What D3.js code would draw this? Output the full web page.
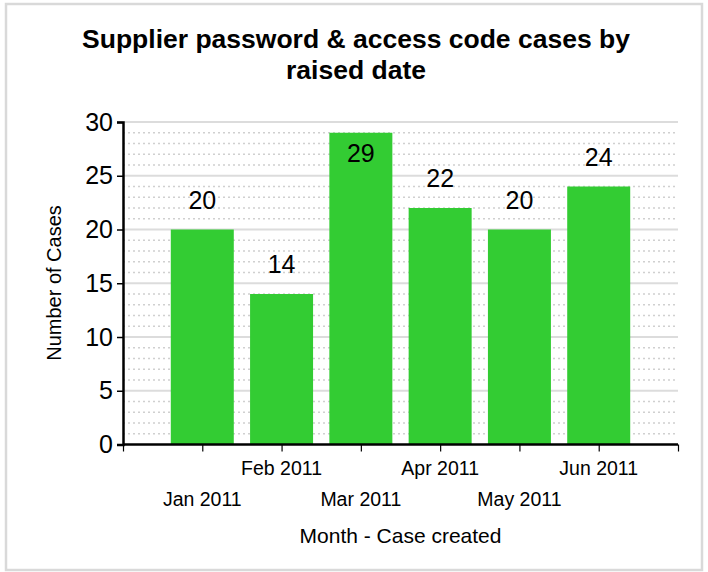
<!DOCTYPE html>
<html><head><meta charset="utf-8">
<script src="https://cdn.jsdelivr.net/npm/d3@7"></script>
<style>body{margin:0;background:#fff;font-family:"Liberation Sans",Arial,sans-serif;}</style>
</head><body>
<svg id="c" width="708" height="572"></svg>
<script>
const months = ["Jan 2011","Feb 2011","Mar 2011","Apr 2011","May 2011","Jun 2011"];
const cases = [20,14,29,22,20,24];
const yTicks = [0,5,10,15,20,25,30];
const titleLines = ["Supplier password & access code cases by","raised date"];

const svg = d3.select("#c");
const L=123,R=678,T=122,B=444.5;

svg.append("rect").attr("x",6).attr("y",4).attr("width",696).attr("height",566)
  .attr("fill","#fff").attr("stroke","#d9d9d9").attr("stroke-width",2.5);

const x = d3.scaleLinear().domain([0,months.length+1]).range([L,R]);
const y = d3.scaleLinear().domain([0,30]).range([B,T]);

const g = svg.append("g");
g.selectAll("line.minor").data(d3.range(1,30).filter(v=>v%5!==0)).enter().append("line")
  .attr("x1",L).attr("x2",R).attr("y1",d=>y(d)).attr("y2",d=>y(d))
  .attr("stroke","#d0d0d0").attr("stroke-width",1.6).attr("stroke-dasharray","2,3");
g.selectAll("line.major").data(yTicks.filter(v=>v>0)).enter().append("line")
  .attr("x1",L).attr("x2",R).attr("y1",d=>y(d)).attr("y2",d=>y(d))
  .attr("stroke","#dcdcdc").attr("stroke-width",2);

const bw = 63;
svg.selectAll("rect.bar").data(cases).enter().append("rect")
  .attr("x",(d,i)=>x(i+1)-bw/2).attr("width",bw)
  .attr("y",d=>y(d)).attr("height",d=>B-y(d)).attr("fill","#33cc33");

svg.selectAll("text.val").data(cases).enter().append("text")
  .attr("x",(d,i)=>x(i+1)).attr("y",d=> (y(d)-45<T) ? y(d)+29 : y(d)-21)
  .attr("text-anchor","middle").attr("font-size",25).attr("fill","#000").text(d=>d);

const ya = svg.append("g").attr("transform",`translate(${L},0)`)
  .call(d3.axisLeft(y).tickValues(yTicks).tickSize(6).tickPadding(4));
ya.select(".domain").attr("stroke","#000").attr("stroke-width",2.5);
ya.selectAll(".tick line").attr("stroke","#000").attr("stroke-width",1.5);
ya.selectAll(".tick text").attr("font-size",25).attr("font-family","Liberation Sans, Arial, sans-serif").attr("fill","#000");

const xa = svg.append("g").attr("transform",`translate(0,${B})`)
  .call(d3.axisBottom(x).tickValues(d3.range(0,months.length+2)).tickSize(7).tickFormat(""));
xa.select(".domain").attr("stroke","#000").attr("stroke-width",2.5).attr("d",`M${L},0H${R}`);
xa.selectAll(".tick line").attr("stroke","#000").attr("stroke-width",1.2);
svg.selectAll("text.xl").data(months).enter().append("text")
  .attr("x",(d,i)=>x(i+1)).attr("y",(d,i)=> i%2===0 ? 506 : 475)
  .attr("text-anchor","middle").attr("font-size",19.5).attr("fill","#000").text(d=>d);

svg.selectAll("text.title").data(titleLines).enter().append("text")
  .attr("x",356).attr("y",(d,i)=>48+i*31).attr("text-anchor","middle")
  .attr("font-size",26.5).attr("font-weight","bold").attr("fill","#000").text(d=>d);

svg.append("text").attr("x",(L+R)/2).attr("y",543).attr("text-anchor","middle")
  .attr("font-size",21).attr("fill","#000").text("Month - Case created");
svg.append("text").attr("transform",`translate(61,283) rotate(-90)`).attr("text-anchor","middle")
  .attr("font-size",20).attr("fill","#000").text("Number of Cases");
</script>
</body></html>
